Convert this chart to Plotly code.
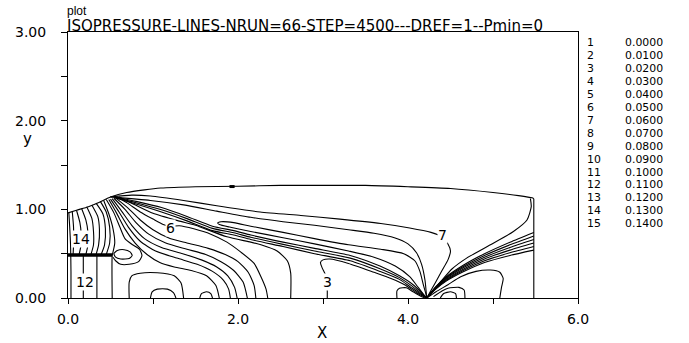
import plotly.graph_objects as go

FONT = "DejaVu Sans"

# ---------------------------------------------------------------
# Isopressure lines, each a polyline of (x, y) points
# ---------------------------------------------------------------
TOP_SURFACE = [(0.0, 0.96), (0.1, 0.99), (0.24, 1.03), (0.37, 1.08), (0.5, 1.14), (0.69, 1.19),
               (0.9, 1.22), (1.09, 1.24), (1.5, 1.255), (2.0, 1.26), (2.5, 1.27), (3.0, 1.27),
               (3.5, 1.27), (4.0, 1.255), (4.5, 1.235), (5.0, 1.19), (5.3, 1.155), (5.46, 1.13),
               (5.48, 1.12)]
RIGHT_WALL = [(5.48, 1.12), (5.48, 0.0)]

# fan from the upper-left corner down onto the plate
FAN_1 = [(0.01, 0.96), (0.02, 0.8), (0.03, 0.6), (0.035, 0.3), (0.035, 0.0)]
FAN_2 = [(0.05, 0.975), (0.065, 0.8), (0.065, 0.6), (0.06, 0.49)]
FAN_3 = [(0.1, 0.99), (0.14, 0.85), (0.155, 0.72), (0.15, 0.58), (0.13, 0.49)]
FAN_4 = [(0.16, 1.01), (0.21, 0.88), (0.235, 0.74), (0.235, 0.6), (0.21, 0.49)]
FAN_5 = [(0.22, 1.03), (0.28, 0.9), (0.3, 0.75), (0.3, 0.6), (0.27, 0.49)]
FAN_6 = [(0.28, 1.05), (0.35, 0.92), (0.37, 0.77), (0.36, 0.6), (0.33, 0.49)]
FAN_7 = [(0.33, 1.07), (0.41, 0.95), (0.44, 0.78), (0.43, 0.6), (0.39, 0.49)]
FAN_8 = [(0.38, 1.09), (0.45, 0.97), (0.49, 0.8), (0.49, 0.62), (0.45, 0.49)]

# below the plate
UNDER_1 = [(0.18, 0.48), (0.18, 0.0)]
UNDER_2 = [(0.34, 0.48), (0.34, 0.0)]
TIP_LINE = [(0.42, 1.1), (0.48, 0.95), (0.53, 0.78), (0.55, 0.62), (0.53, 0.52), (0.52, 0.48),
            (0.52, 0.0)]
TIP_EDDY = [(0.54, 0.5), (0.58, 0.535), (0.66, 0.545), (0.73, 0.52), (0.755, 0.48), (0.72, 0.445),
            (0.62, 0.44), (0.56, 0.46), (0.54, 0.5)]
EDDY_WRAP = [(0.45, 1.11), (0.54, 0.96), (0.61, 0.8), (0.67, 0.67), (0.76, 0.6), (0.84, 0.55),
             (0.87, 0.48), (0.83, 0.41), (0.72, 0.38), (0.62, 0.38), (0.56, 0.42), (0.53, 0.46)]

# diagonal family reaching the floor
ARCH = [(0.72, 0.0), (0.72, 0.18), (0.75, 0.25), (0.85, 0.28), (1.05, 0.285), (1.25, 0.25),
        (1.33, 0.17), (1.36, 0.0)]
BUMP_1 = [(0.97, 0.0), (0.99, 0.07), (1.05, 0.1), (1.17, 0.1), (1.24, 0.06), (1.27, 0.0)]
BUMP_2 = [(1.55, 0.0), (1.57, 0.05), (1.63, 0.07), (1.68, 0.05), (1.7, 0.0)]
DIAG_1 = [(0.48, 1.11), (0.57, 0.96), (0.67, 0.78), (0.79, 0.62), (0.93, 0.49), (1.08, 0.4),
          (1.25, 0.35), (1.45, 0.31), (1.63, 0.25), (1.74, 0.14), (1.78, 0.0)]
DIAG_2 = [(0.5, 1.115), (0.6, 0.97), (0.71, 0.8), (0.85, 0.64), (1.03, 0.53), (1.28, 0.45),
          (1.52, 0.38), (1.7, 0.3), (1.83, 0.2), (1.89, 0.1), (1.91, 0.0)]
DIAG_3 = [(0.52, 1.12), (0.63, 0.98), (0.75, 0.82), (0.9, 0.67), (1.1, 0.57), (1.35, 0.5),
          (1.57, 0.43), (1.75, 0.35), (1.88, 0.25), (1.96, 0.12), (1.99, 0.0)]
DIAG_4 = [(0.54, 1.125), (0.67, 1.0), (0.8, 0.85), (0.95, 0.72), (1.15, 0.62), (1.4, 0.55),
          (1.62, 0.49), (1.8, 0.41), (1.95, 0.31), (2.06, 0.18), (2.11, 0.0)]
DIAG_5 = [(0.56, 1.13), (0.7, 1.02), (0.85, 0.88), (1.0, 0.77), (1.2, 0.67), (1.4, 0.62),
          (1.65, 0.56), (1.85, 0.49), (2.0, 0.41), (2.12, 0.29), (2.19, 0.14), (2.21, 0.0)]
LEVEL_6 = [(0.58, 1.14), (0.7, 1.07), (0.85, 0.97), (1.0, 0.89), (1.12, 0.83), (1.21, 0.81),
           (1.31, 0.815), (1.48, 0.78), (1.68, 0.72), (1.87, 0.63), (2.03, 0.52), (2.19, 0.39),
           (2.27, 0.24), (2.33, 0.1), (2.35, 0.0)]
DIAG_7 = [(0.6, 1.14), (0.8, 1.045), (1.0, 0.955), (1.3, 0.87), (1.5, 0.82), (1.87, 0.69),
          (2.15, 0.63), (2.27, 0.6), (2.46, 0.53), (2.58, 0.42), (2.62, 0.28), (2.62, 0.0)]

# band converging on the stagnation point
BAND_1 = [(0.55, 1.14), (0.8, 1.09), (1.1, 1.02), (1.4, 0.92), (1.7, 0.81), (1.95, 0.76),
          (2.15, 0.71), (2.53, 0.63), (2.9, 0.56), (3.32, 0.48), (3.67, 0.36), (3.9, 0.25),
          (4.06, 0.15), (4.16, 0.06), (4.22, 0.0)]
BAND_2 = [(0.55, 1.135), (0.8, 1.075), (1.1, 0.995), (1.4, 0.895), (1.7, 0.785), (1.95, 0.735),
          (2.15, 0.685), (2.53, 0.605), (2.9, 0.53), (3.32, 0.45), (3.67, 0.33), (3.9, 0.23),
          (4.04, 0.14), (4.15, 0.055), (4.22, 0.0)]
BAND_3 = [(0.55, 1.13), (0.8, 1.06), (1.1, 0.97), (1.4, 0.87), (1.7, 0.76), (1.95, 0.71),
          (2.15, 0.66), (2.53, 0.58), (2.9, 0.5), (3.32, 0.42), (3.67, 0.3), (3.9, 0.21),
          (4.02, 0.13), (4.14, 0.05), (4.22, 0.0)]
TONGUE = [(4.22, 0.0), (4.12, 0.12), (4.02, 0.24), (3.85, 0.36), (3.6, 0.46), (3.3, 0.53),
          (2.9, 0.61), (2.53, 0.68), (2.15, 0.75), (1.9, 0.8), (1.78, 0.83), (1.76, 0.845),
          (1.8, 0.86), (1.95, 0.85), (2.15, 0.81), (2.53, 0.74), (2.9, 0.67), (3.3, 0.6),
          (3.68, 0.55), (3.95, 0.5), (4.08, 0.42), (4.14, 0.3), (4.18, 0.15), (4.22, 0.0)]
ELBOW = [(0.5, 1.14), (0.97, 1.1), (1.36, 1.05), (1.75, 0.98), (2.15, 0.91), (2.53, 0.86),
         (2.9, 0.82), (3.3, 0.77), (3.6, 0.73), (3.84, 0.68), (4.0, 0.61), (4.1, 0.51),
         (4.16, 0.38), (4.2, 0.2), (4.22, 0.0)]
LEVEL_7 = [(0.5, 1.14), (0.75, 1.16), (0.97, 1.15), (1.36, 1.1), (1.75, 1.04), (2.26, 0.97),
           (2.74, 0.93), (3.2, 0.89), (3.68, 0.84), (4.02, 0.79), (4.27, 0.74), (4.4, 0.69),
           (4.47, 0.61), (4.5, 0.53), (4.47, 0.43), (4.4, 0.31), (4.32, 0.17), (4.25, 0.05),
           (4.22, 0.0)]
LEVEL_3 = [(3.05, 0.0), (3.05, 0.1), (3.04, 0.2), (3.03, 0.26), (2.99, 0.34), (2.97, 0.4),
           (3.0, 0.43), (3.08, 0.44), (3.3, 0.39), (3.6, 0.29), (3.8, 0.22), (3.96, 0.15),
           (4.1, 0.06), (4.22, 0.0)]
LEFT_LOOP = [(3.87, 0.0), (3.87, 0.08), (3.9, 0.11), (3.98, 0.115), (4.06, 0.07), (4.15, 0.02),
             (4.2, 0.0)]

# right-hand fan and corner
CORNER = [(5.44, 1.12), (5.45, 1.03), (5.4, 0.88), (5.24, 0.75), (4.97, 0.6), (4.69, 0.45),
          (4.52, 0.33), (4.38, 0.18), (4.27, 0.06), (4.22, 0.0)]
RAY_1 = [(5.48, 0.74), (5.2, 0.63), (4.9, 0.5), (4.65, 0.37), (4.45, 0.24), (4.32, 0.12), (4.22, 0.0)]
RAY_2 = [(5.48, 0.70), (5.2, 0.6), (4.9, 0.48), (4.65, 0.355), (4.45, 0.23), (4.32, 0.115), (4.22, 0.0)]
RAY_3 = [(5.48, 0.66), (5.2, 0.57), (4.9, 0.46), (4.65, 0.34), (4.45, 0.22), (4.32, 0.11), (4.22, 0.0)]
RAY_4 = [(5.48, 0.62), (5.2, 0.54), (4.9, 0.44), (4.65, 0.325), (4.45, 0.21), (4.32, 0.105), (4.22, 0.0)]
RAY_5 = [(5.48, 0.58), (5.2, 0.51), (4.9, 0.42), (4.65, 0.31), (4.45, 0.2), (4.32, 0.1), (4.22, 0.0)]
RAY_6 = [(5.48, 0.54), (5.2, 0.48), (4.9, 0.40), (4.65, 0.295), (4.45, 0.19), (4.32, 0.095), (4.22, 0.0)]
RIGHT_EDDY = [(5.08, 0.0), (5.1, 0.12), (5.12, 0.22), (5.08, 0.29), (4.97, 0.315), (4.8, 0.3),
              (4.62, 0.24), (4.47, 0.15), (4.33, 0.07), (4.22, 0.0)]
RIGHT_LOOP = [(4.3, 0.015), (4.4, 0.08), (4.47, 0.11), (4.6, 0.12), (4.66, 0.09), (4.67, 0.0)]
RIGHT_INNER = [(4.38, 0.0), (4.42, 0.05), (4.5, 0.07), (4.56, 0.05), (4.57, 0.0)]

CONTOUR_LINES = [
    TOP_SURFACE, RIGHT_WALL,
    FAN_1, FAN_2, FAN_3, FAN_4, FAN_5, FAN_6, FAN_7, FAN_8,
    UNDER_1, UNDER_2, TIP_LINE, TIP_EDDY, EDDY_WRAP,
    ARCH, BUMP_1, BUMP_2, DIAG_1, DIAG_2, DIAG_3, DIAG_4, DIAG_5, LEVEL_6, DIAG_7,
    BAND_1, BAND_2, BAND_3, TONGUE, ELBOW, LEVEL_7, LEVEL_3, LEFT_LOOP,
    CORNER, RAY_1, RAY_2, RAY_3, RAY_4, RAY_5, RAY_6, RIGHT_EDDY, RIGHT_LOOP, RIGHT_INNER,
]

# nozzle plate and the small marker on the free surface
PLATE = [(0.0, 0.485), (0.52, 0.485)]
SURFACE_MARK = [(1.9, 1.257), (1.96, 1.257)]

# contour tags written on the lines
TAG_TEXT = ["14", "12", "6", "3", "7"]
TAG_X = [0.15, 0.2, 1.21, 3.05, 4.4]
TAG_Y = [0.67, 0.18, 0.79, 0.18, 0.71]

# level table
LEVEL_NUMBERS = ["1", "2", "3", "4", "5", "6", "7", "8", "9", "10", "11", "12", "13", "14", "15"]
LEVEL_VALUES = ["0.0000", "0.0100", "0.0200", "0.0300", "0.0400", "0.0500", "0.0600", "0.0700",
                "0.0800", "0.0900", "0.1000", "0.1100", "0.1200", "0.1300", "0.1400"]

X_TICKS = [0, 1, 2, 3, 4, 5, 6]
X_TICK_TEXT = ["0.0", "", "2.0", "", "4.0", "", "6.0"]
Y_TICKS = [0, 0.5, 1, 1.5, 2, 2.5, 3]
Y_TICK_TEXT = ["0.00", "", "1.00", "", "2.00", "", "3.00"]

TITLE_TOP = "plot"
TITLE_MAIN = "ISOPRESSURE-LINES-NRUN=66-STEP=4500---DREF=1--Pmin=0"

W, H = 689, 343
ML, MR, MT, MB = 68, 111, 32, 45
PW, PH = W - ML - MR, H - MT - MB


def px_to_paper(px, py):
    return (px - ML) / PW, (H - MB - py) / PH


fig = go.Figure()

for pts in CONTOUR_LINES:
    xs, ys = zip(*pts)
    fig.add_trace(go.Scatter(
        x=xs, y=ys, mode="lines",
        line=dict(color="black", width=1.1, shape="spline", smoothing=0.6),
        hoverinfo="skip", showlegend=False,
    ))

for pts, w in ((PLATE, 3.5), (SURFACE_MARK, 3.0)):
    xs, ys = zip(*pts)
    fig.add_trace(go.Scatter(x=xs, y=ys, mode="lines", line=dict(color="black", width=w),
                             hoverinfo="skip", showlegend=False))

annotations = []
for t, x, y in zip(TAG_TEXT, TAG_X, TAG_Y):
    annotations.append(dict(x=x, y=y, xref="x", yref="y", text=t, showarrow=False,
                            font=dict(family=FONT, size=14, color="black"),
                            bgcolor="white", borderpad=0))

# level table on the right, rows set tightly
row0, row_step = 43.0, 12.9
for i, (n, v) in enumerate(zip(LEVEL_NUMBERS, LEVEL_VALUES)):
    py = row0 + i * row_step
    xn, yn = px_to_paper(586, py)
    xv, _ = px_to_paper(624, py)
    for txt, xp in ((n, xn), (v, xv)):
        annotations.append(dict(x=xp, y=yn, xref="paper", yref="paper", text=txt,
                                showarrow=False, xanchor="left", yanchor="middle", borderpad=0,
                                font=dict(family=FONT, size=10.9, color="black")))

# titles and axis names
x0, y0 = px_to_paper(66, 10.5)
annotations.append(dict(x=x0, y=y0, xref="paper", yref="paper", text=TITLE_TOP, showarrow=False,
                        xanchor="left", yanchor="middle", borderpad=0,
                        font=dict(family="Liberation Sans", size=12, color="black")))
x1, y1 = px_to_paper(66, 26)
annotations.append(dict(x=x1, y=y1, xref="paper", yref="paper", text=TITLE_MAIN, showarrow=False,
                        xanchor="left", yanchor="middle", borderpad=0,
                        font=dict(family=FONT, size=15, color="black")))
xx, yx = px_to_paper(322, 333)
annotations.append(dict(x=xx, y=yx, xref="paper", yref="paper", text="X", showarrow=False,
                        xanchor="center", yanchor="middle",
                        font=dict(family=FONT, size=15, color="black")))
xy, yy = px_to_paper(27, 139)
annotations.append(dict(x=xy, y=yy, xref="paper", yref="paper", text="y", showarrow=False,
                        xanchor="center", yanchor="middle",
                        font=dict(family=FONT, size=15, color="black")))

axis_common = dict(showgrid=False, zeroline=False, showline=True, linecolor="black", linewidth=1,
                   mirror=True, ticks="outside", tickcolor="black", tickwidth=1,
                   tickfont=dict(family=FONT, size=14, color="black"))

fig.update_layout(
    width=W, height=H,
    margin=dict(l=ML, r=MR, t=MT, b=MB),
    paper_bgcolor="white", plot_bgcolor="white",
    xaxis=dict(range=[0, 6], tickvals=X_TICKS, ticktext=X_TICK_TEXT, ticklen=5,
               ticklabelstandoff=3, **axis_common),
    yaxis=dict(range=[0, 3], tickvals=Y_TICKS, ticktext=Y_TICK_TEXT, ticklen=6,
               ticklabelstandoff=12, **axis_common),
    annotations=annotations,
    showlegend=False,
)

fig.write_html("out.html")
